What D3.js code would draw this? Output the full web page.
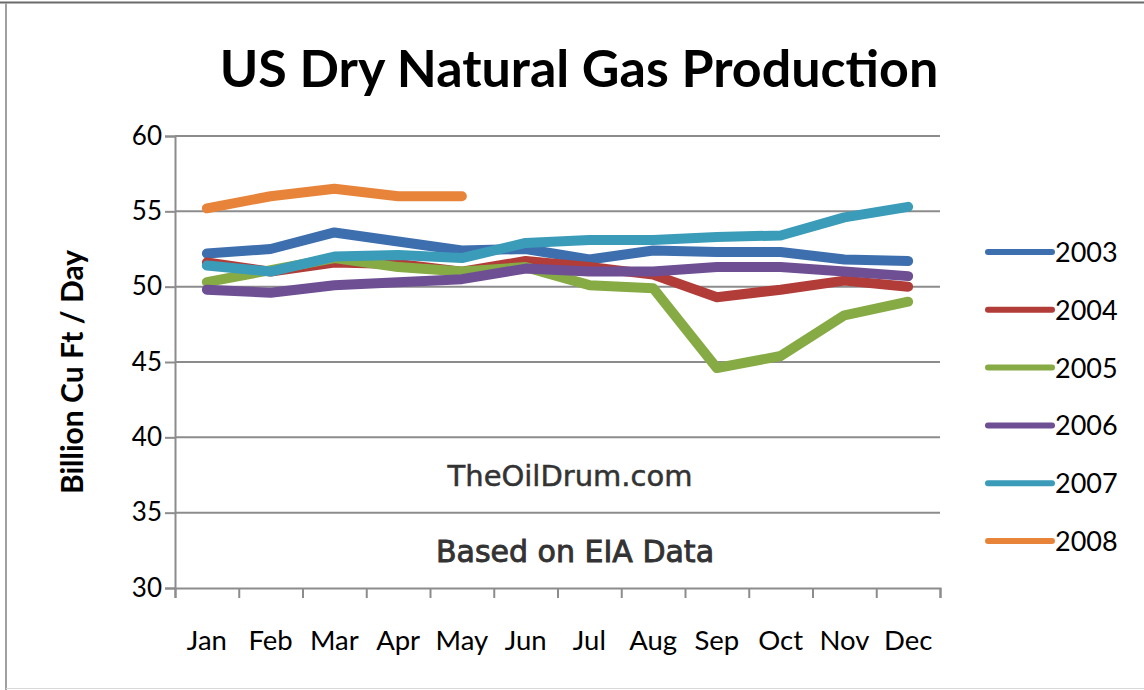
<!DOCTYPE html>
<html>
<head>
<meta charset="utf-8">
<script src="https://cdn.jsdelivr.net/npm/d3@7"></script>
<style>
  body { margin: 0; background: #fff; }
  svg { display: block; }
</style>
</head>
<body>
<div id="chart"></div>
<script>
var months = ["Jan", "Feb", "Mar", "Apr", "May", "Jun", "Jul", "Aug", "Sep", "Oct", "Nov", "Dec"];
var years = ["2003", "2004", "2005", "2006", "2007", "2008"];
var yTicks = [30, 35, 40, 45, 50, 55, 60];

var gas2003 = [52.2, 52.5, 53.6, 53.0, 52.4, 52.5, 51.8, 52.4, 52.3, 52.3, 51.8, 51.7];
var gas2004 = [51.6, 51.0, 51.6, 51.5, 51.0, 51.7, 51.3, 50.8, 49.3, 49.8, 50.4, 50.0];
var gas2005 = [50.3, 51.1, 51.9, 51.3, 51.0, 51.3, 50.1, 49.9, 44.6, 45.4, 48.1, 49.0];
var gas2006 = [49.8, 49.6, 50.1, 50.3, 50.5, 51.2, 51.0, 51.0, 51.3, 51.3, 51.0, 50.7];
var gas2007 = [51.4, 51.0, 52.0, 52.1, 51.9, 52.9, 53.1, 53.1, 53.3, 53.4, 54.6, 55.3];
var gas2008 = [55.2, 56.0, 56.5, 56.0, 56.0];

var seriesValues = [gas2003, gas2004, gas2005, gas2006, gas2007, gas2008];
var colors = ["#3d6fae", "#b23c38", "#86ab45", "#6e4f94", "#3a9cb8", "#e8843a"];

var font = "Lato, 'Open Sans', sans-serif";
var svgWidth = 1144, svgHeight = 690;
var margin = { top: 136, right: 204, bottom: 102, left: 175 };
var width = svgWidth - margin.left - margin.right;
var height = svgHeight - margin.top - margin.bottom;

var svg = d3.select("#chart").append("svg")
  .attr("width", svgWidth)
  .attr("height", svgHeight);

// frame
svg.append("line").attr("x1", 0).attr("x2", svgWidth).attr("y1", 2.5).attr("y2", 2.5)
  .attr("stroke", "#6a6a6a").attr("stroke-width", 2);
svg.append("line").attr("x1", 6).attr("x2", 6).attr("y1", 3).attr("y2", svgHeight)
  .attr("stroke", "#a0a0a0").attr("stroke-width", 2);
svg.append("line").attr("x1", 6).attr("x2", svgWidth).attr("y1", 688.5).attr("y2", 688.5)
  .attr("stroke", "#d8d8d8").attr("stroke-width", 1);

svg.append("text")
  .attr("x", 579).attr("y", 87)
  .attr("text-anchor", "middle")
  .attr("font-family", font)
  .attr("font-weight", "bold")
  .attr("font-size", 52)
  .attr("fill", "#000")
  .text("US Dry Natural Gas Production");

var chartGroup = svg.append("g")
  .attr("transform", `translate(${margin.left}, ${margin.top})`);

var xScale = d3.scaleBand().domain(months).range([0, width]);
var yScale = d3.scaleLinear().domain([30, 60]).range([height, 0]);

// gridlines
chartGroup.append("g")
  .selectAll("line")
  .data(yTicks.filter(d => d > 30))
  .enter()
  .append("line")
  .attr("x1", 0).attr("x2", width)
  .attr("y1", d => yScale(d)).attr("y2", d => yScale(d))
  .attr("stroke", "#8c8c8c").attr("stroke-width", 2);

var leftAxis = d3.axisLeft(yScale).tickValues(yTicks).tickSize(10).tickPadding(3);
var yAxisG = chartGroup.append("g").call(leftAxis);
yAxisG.select(".domain").attr("stroke", "#8c8c8c").attr("stroke-width", 2);
yAxisG.selectAll(".tick line").attr("stroke", "#8c8c8c").attr("stroke-width", 2);
yAxisG.selectAll(".tick text")
  .attr("font-family", font)
  .attr("font-size", 26).attr("fill", "#000");

var xTickScale = d3.scaleLinear().domain([0, months.length]).range([0, width]);
var bottomAxis = d3.axisBottom(xTickScale).tickValues(d3.range(0, months.length + 1))
  .tickSize(10).tickFormat("");
var xAxisG = chartGroup.append("g")
  .attr("transform", `translate(0, ${height})`)
  .call(bottomAxis);
xAxisG.select(".domain").attr("stroke", "#8c8c8c").attr("stroke-width", 2);
xAxisG.selectAll(".tick line").attr("stroke", "#8c8c8c").attr("stroke-width", 2);

chartGroup.append("g")
  .selectAll("text")
  .data(months)
  .enter()
  .append("text")
  .attr("x", d => xScale(d) + xScale.bandwidth() / 2)
  .attr("y", height + 62)
  .attr("text-anchor", "middle")
  .attr("font-family", font)
  .attr("font-size", 27.5)
  .attr("fill", "#000")
  .text(d => d);

// watermark
chartGroup.append("text")
  .attr("x", 395).attr("y", 350)
  .attr("text-anchor", "middle")
  .attr("font-family", "'DejaVu Sans', Verdana, sans-serif")
  .attr("font-size", 29)
  .attr("fill", "#333")
  .attr("stroke", "#333")
  .attr("stroke-width", 0.5)
  .text("TheOilDrum.com");
chartGroup.append("text")
  .attr("x", 400).attr("y", 426)
  .attr("text-anchor", "middle")
  .attr("font-family", "'DejaVu Sans', Verdana, sans-serif")
  .attr("font-size", 30)
  .attr("fill", "#333")
  .attr("stroke", "#333")
  .attr("stroke-width", 0.9)
  .text("Based on EIA Data");

var line = d3.line()
  .x((d, i) => xScale(months[i]) + xScale.bandwidth() / 2)
  .y(d => yScale(d));

chartGroup.selectAll(".series")
  .data(seriesValues)
  .enter()
  .append("path")
  .attr("class", "series")
  .attr("d", d => line(d))
  .attr("fill", "none")
  .attr("stroke", (d, i) => colors[i])
  .attr("stroke-width", 10)
  .attr("stroke-linecap", "round")
  .attr("stroke-linejoin", "round");

chartGroup.append("text")
  .attr("transform", "rotate(-90)")
  .attr("x", -236)
  .attr("y", -92)
  .attr("text-anchor", "middle")
  .attr("font-family", font)
  .attr("font-weight", "bold")
  .attr("font-size", 30)
  .attr("fill", "#000")
  .text("Billion Cu Ft / Day");

// legend
var legend = svg.append("g").attr("transform", "translate(988, 252)");
var legendItem = legend.selectAll("g")
  .data(years)
  .enter()
  .append("g")
  .attr("transform", (d, i) => `translate(0, ${i * 57.8})`);
legendItem.append("line")
  .attr("x1", 0).attr("x2", 64).attr("y1", 0).attr("y2", 0)
  .attr("stroke", (d, i) => colors[i])
  .attr("stroke-width", 6)
  .attr("stroke-linecap", "round");
legendItem.append("text")
  .attr("x", 67).attr("y", 10)
  .attr("font-family", font)
  .attr("font-size", 27)
  .attr("fill", "#000")
  .text(d => d);
</script>
</body>
</html>
